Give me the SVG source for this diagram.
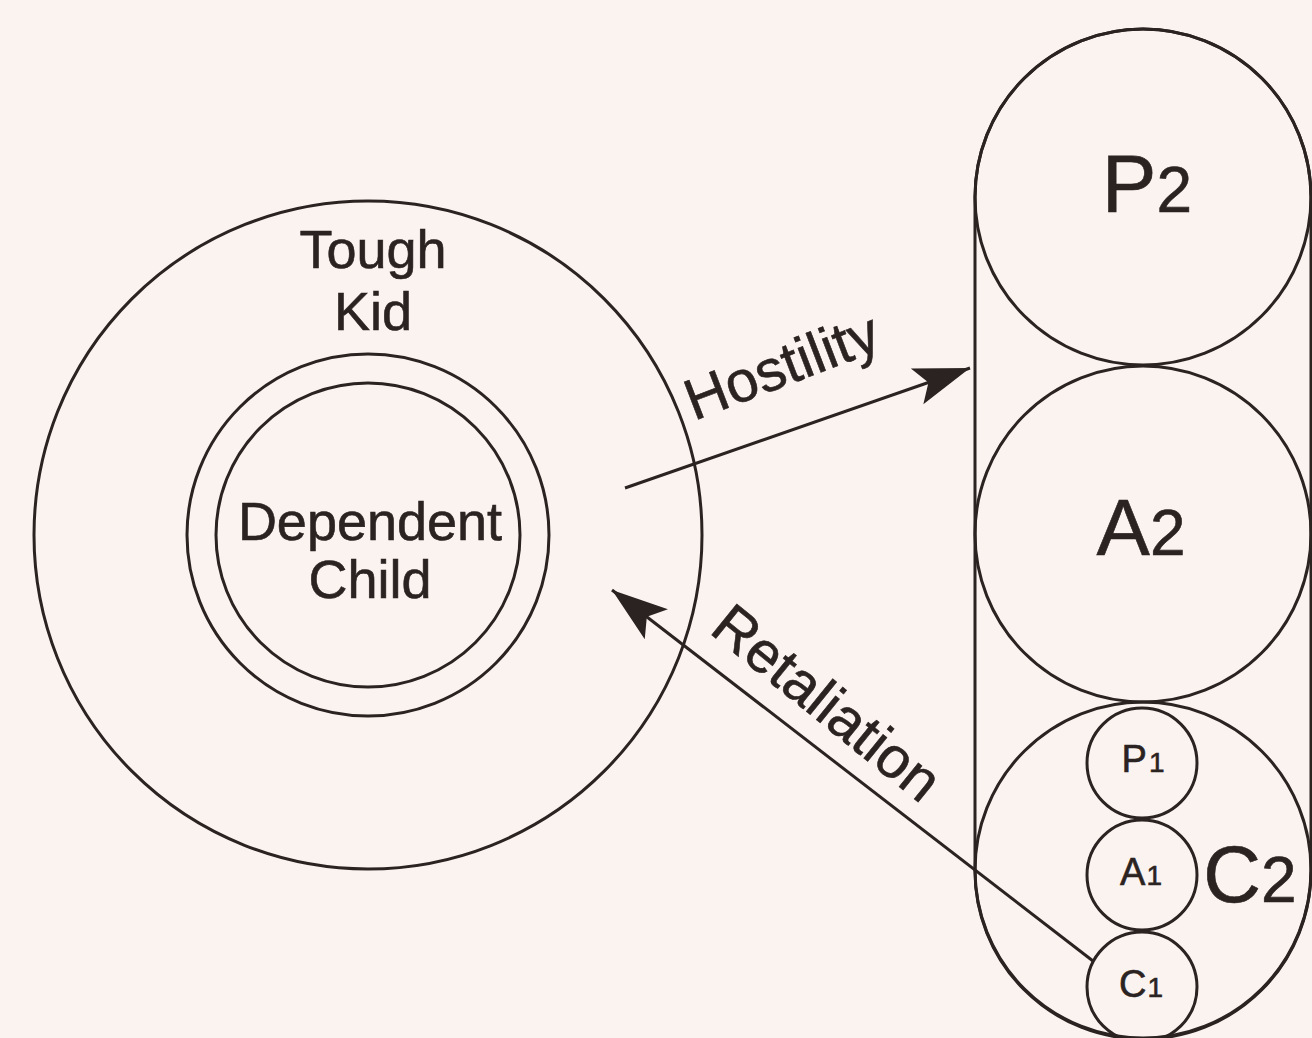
<svg xmlns="http://www.w3.org/2000/svg" width="1312" height="1038" viewBox="0 0 1312 1038">
<style>
.ln{fill:none;stroke:#2b2321;stroke-width:3}
.tx{font-family:"Liberation Sans",Arial,Helvetica,sans-serif;fill:#2b2321;stroke:#2b2321;stroke-width:0.6}
.lbl{font-size:54px}
.arr{font-size:58px}
</style>
<defs>
<marker id="ah" markerUnits="userSpaceOnUse" viewBox="0 -21 58 42" refX="56" refY="0" markerWidth="58" markerHeight="42" orient="auto">
<path d="M56,0 L0,-19 L12,0 L0,19 Z" fill="#2b2321"/>
</marker>
</defs>
<rect width="1312" height="1038" fill="#fbf3f0"/>
<g id="tough-kid">
<circle class="ln" cx="368" cy="535" r="334"/>
<text class="tx lbl" text-anchor="middle" x="373" y="268">Tough</text>
<text class="tx lbl" text-anchor="middle" x="373" y="330">Kid</text>
</g>
<g id="dependent-child">
<circle class="ln" cx="368" cy="535" r="181"/>
<circle class="ln" cx="368" cy="535" r="152"/>
<text class="tx lbl" text-anchor="middle" x="370" y="540">Dependent</text>
<text class="tx lbl" text-anchor="middle" x="370" y="598">Child</text>
</g>
<g id="other">
<rect class="ln" x="975" y="29" width="336" height="1010" rx="168" ry="168"/>
</g>
<g id="P2">
<circle class="ln" cx="1143" cy="197" r="168"/>
<text class="tx" text-anchor="middle" x="1147" y="212"><tspan font-size="82">P</tspan><tspan font-size="64">2</tspan></text>
</g>
<g id="A2">
<circle class="ln" cx="1143" cy="534" r="168"/>
<text class="tx" text-anchor="middle" x="1141" y="555"><tspan font-size="80">A</tspan><tspan font-size="64">2</tspan></text>
</g>
<g id="C2">
<circle class="ln" cx="1143" cy="870" r="168"/>
<text class="tx" text-anchor="middle" x="1250" y="902"><tspan font-size="80">C</tspan><tspan font-size="64">2</tspan></text>
</g>
<g id="P1">
<circle class="ln" cx="1142" cy="763" r="55"/>
<text class="tx" text-anchor="middle" x="1143" y="772"><tspan font-size="38">P</tspan><tspan font-size="28" dx="2">1</tspan></text>
</g>
<g id="A1">
<circle class="ln" cx="1142" cy="875" r="55"/>
<text class="tx" text-anchor="middle" x="1141" y="885"><tspan font-size="38">A</tspan><tspan font-size="28" dx="1">1</tspan></text>
</g>
<g id="C1">
<circle class="ln" cx="1142" cy="987" r="55"/>
<text class="tx" text-anchor="middle" x="1141" y="997"><tspan font-size="38">C</tspan><tspan font-size="28" dx="1">1</tspan></text>
</g>
<g id="connectors">
<line class="ln" x1="625" y1="488" x2="970" y2="368" marker-end="url(#ah)"/>
<line class="ln" x1="1093" y1="961" x2="612" y2="590" marker-end="url(#ah)"/>
<text class="tx arr" x="694" y="421" transform="rotate(-21 694 421)">Hostility</text>
<text class="tx arr" x="708" y="632" transform="rotate(39 708 632)">Retaliation</text>
</g>
</svg>
